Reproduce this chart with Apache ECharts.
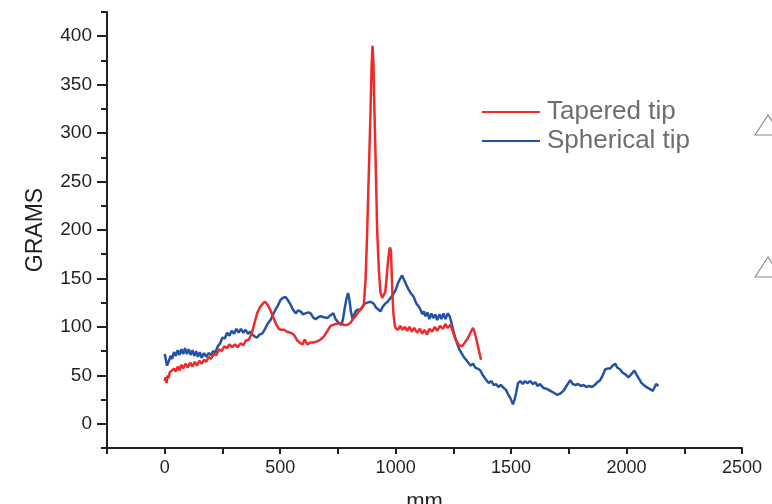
<!DOCTYPE html>
<html>
<head>
<meta charset="utf-8">
<script src="https://cdn.jsdelivr.net/npm/echarts@6/dist/echarts.min.js"></script>
<style>
  html, body { margin: 0; padding: 0; background: #fff; }
  #chart { width: 772px; height: 504px; }
</style>
</head>
<body>
<div id="chart"></div>
<script>
(function () {
  'use strict';

  // tick labels
  var xLabelValues = [0, 500, 1000, 1500, 2000, 2500];
  var xTickValues = [-250, 0, 250, 500, 750, 1000, 1250, 1500, 1750, 2000, 2250, 2500];
  var yLabelValues = [0, 50, 100, 150, 200, 250, 300, 350, 400];
  var yMinorValues = [-25, 25, 75, 125, 175, 225, 275, 325, 375, 425];

  // series: [mm, grams]
  var tapered = [
    [0,44],[4,48],[8,42],[12,50],[16,47],[22,53],[30,51],[40,57],[48,54],[56,59],[64,55],[72,61],
    [80,57],[90,62],[100,58],[110,63],[120,59],[130,64],[140,60],[150,65],[160,62],[170,66],
    [180,64],[190,69],[200,67],[212,72],[224,71],[235,77],[246,75],[258,80],[270,78],[280,82],
    [292,79],[304,82],[316,79],[328,83],[340,81],[352,86],[365,87],[378,94],[390,105],[400,114],
    [412,120],[425,124],[434,126],[445,123],[458,117],[470,110],[482,103],[494,98],[505,97],
    [516,97],[530,95],[545,94],[559,92],[574,86],[588,83],[597,82],[606,87],[617,82],[632,84],
    [646,84],[660,85],[675,87],[689,90],[705,96],[718,101],[725,102],[740,103],[761,104],
    [776,102],[790,102],[804,104],[812,107],[826,111],[840,116],[852,119],[862,122],[870,150],
    [877,200],[884,260],[891,320],[896,370],[900,390],[904,372],[908,325],[913,275],[920,200],
    [927,160],[934,136],[942,130],[949,131],[955,136],[960,148],[966,165],[972,179],[976,182],
    [980,178],[983,155],[986,135],[990,115],[995,104],[999,99],[1010,97],[1020,101],[1030,97],
    [1040,100],[1050,96],[1060,100],[1070,95],[1080,99],[1093,94],[1105,98],[1115,93],
    [1125,97],[1136,92],[1146,98],[1158,95],[1170,100],[1180,96],[1192,101],[1205,98],
    [1215,103],[1225,99],[1237,102],[1245,97],[1252,92],[1262,86],[1275,81],[1288,80],
    [1300,84],[1312,88],[1324,94],[1335,99],[1344,93],[1352,85],[1360,76],[1370,66]
  ];

  var spherical = [
    [0,72],[5,66],[10,60],[15,58],[20,66],[25,70],[32,67],[40,74],[48,70],[56,76],[64,71],
    [72,77],[80,72],[88,78],[96,72],[104,77],[112,71],[120,76],[128,70],[136,75],[144,69],
    [152,74],[160,68],[170,73],[180,69],[190,73],[200,71],[210,75],[220,74],[230,80],[240,83],
    [250,89],[260,88],[270,94],[280,91],[290,96],[300,93],[310,98],[320,94],[330,98],[340,94],
    [350,97],[360,93],[370,95],[380,92],[390,90],[400,89],[410,92],[422,93],[435,98],[445,103],
    [458,107],[470,113],[480,118],[490,122],[502,128],[512,130],[523,131],[532,128],[545,123],
    [555,118],[567,114],[578,117],[588,116],[598,113],[610,114],[622,115],[632,114],[642,110],
    [653,108],[665,110],[675,111],[690,110],[704,109],[718,112],[730,114],[740,108],[754,104],
    [765,102],[772,108],[780,120],[788,130],[794,135],[800,128],[806,116],[814,108],[826,116],
    [836,118],[846,117],[856,121],[866,124],[878,125],[891,126],[905,124],[915,120],[925,118],
    [934,116],[945,121],[955,124],[965,126],[975,129],[985,132],[992,131],[1000,138],
    [1010,145],[1020,150],[1028,153],[1036,149],[1045,144],[1055,139],[1065,135],[1078,131],
    [1090,124],[1100,121],[1107,118],[1116,113],[1122,116],[1129,111],[1138,115],[1146,108],
    [1155,114],[1163,109],[1172,113],[1180,107],[1190,113],[1198,108],[1207,114],[1216,108],
    [1225,114],[1234,111],[1240,106],[1248,98],[1259,88],[1266,83],[1275,77],[1285,73],
    [1295,69],[1305,66],[1315,63],[1325,60],[1335,62],[1345,58],[1355,57],[1367,55],
    [1378,50],[1390,46],[1403,42],[1415,44],[1425,40],[1435,41],[1445,38],[1455,40],
    [1468,37],[1478,35],[1488,30],[1498,26],[1508,20],[1515,25],[1522,32],[1530,42],
    [1540,44],[1550,41],[1560,44],[1570,42],[1583,44],[1595,41],[1605,43],[1615,39],
    [1625,41],[1640,37],[1655,36],[1670,34],[1685,32],[1698,30],[1712,31],[1727,34],
    [1740,39],[1756,45],[1767,41],[1778,40],[1790,41],[1802,39],[1814,40],[1826,38],
    [1838,39],[1850,38],[1862,40],[1874,43],[1886,45],[1897,50],[1907,56],[1918,57],
    [1929,57],[1940,60],[1951,62],[1960,58],[1972,56],[1982,53],[1995,51],[2008,48],
    [2020,51],[2034,55],[2045,50],[2055,46],[2065,42],[2073,40],[2085,38],[2100,36],
    [2114,34],[2122,38],[2128,41],[2138,39]
  ];

  var axisColor = '#231f20';
  var font = 'Liberation Sans, Arial, sans-serif';
  var plain = function (v) { return String(v); };

  var myChart = echarts.init(document.getElementById('chart'));

  myChart.setOption({
    animation: false,
    backgroundColor: '#fff',
    grid: { left: 107, right: 30, top: 12, bottom: 56, containLabel: false, outerBoundsMode: 'none' },
    legend: {
      orient: 'vertical',
      left: 477,
      top: 94,
      icon: 'rect',
      itemWidth: 58,
      itemHeight: 2,
      itemGap: 3,
      textStyle: { fontFamily: font, fontSize: 26, color: '#6d6e71', padding: [0, 0, 0, 2] },
      data: ['Tapered tip', 'Spherical tip']
    },
    xAxis: {
      type: 'value',
      min: -250,
      max: 2500,
      name: 'mm',
      nameLocation: 'middle',
      nameGap: 43,
      nameTextStyle: { fontFamily: font, fontSize: 22, color: axisColor },
      splitLine: { show: false },
      axisLine: { onZero: false, lineStyle: { color: axisColor, width: 2 } },
      axisTick: { customValues: xTickValues, length: 6, lineStyle: { color: axisColor, width: 2 } },
      axisLabel: { customValues: xLabelValues, formatter: plain, margin: 11, fontFamily: font, fontSize: 18, color: axisColor }
    },
    yAxis: [{
      type: 'value',
      min: -25,
      max: 425,
      name: 'GRAMS',
      nameLocation: 'middle',
      nameGap: 60,
      nameTextStyle: { fontFamily: font, fontSize: 23, color: axisColor },
      splitLine: { show: false },
      axisLine: { onZero: false, lineStyle: { color: axisColor, width: 2 } },
      axisTick: { customValues: yLabelValues, length: 10, lineStyle: { color: axisColor, width: 2 } },
      axisLabel: { customValues: yLabelValues, formatter: plain, margin: 15, fontFamily: font, fontSize: 19, color: axisColor }
    }, {
      type: 'value',
      position: 'left',
      min: -25,
      max: 425,
      splitLine: { show: false },
      axisLine: { show: false, onZero: false },
      axisTick: { customValues: yMinorValues, length: 6, lineStyle: { color: axisColor, width: 2 } },
      axisLabel: { show: false }
    }],
    series: [{
      name: 'Tapered tip',
      type: 'line',
      data: tapered,
      symbol: 'none',
      color: '#ee2a2a',
      lineStyle: { width: 2.5 },
      z: 3
    }, {
      name: 'Spherical tip',
      type: 'line',
      data: spherical,
      symbol: 'none',
      color: '#2553a3',
      lineStyle: { width: 2.5 },
      z: 2
    }],
    graphic: [{
      type: 'polygon',
      shape: { points: [[755, 135], [768, 115], [781, 135]] },
      style: { fill: 'none', stroke: '#8a8a8a', lineWidth: 1.2 }
    }, {
      type: 'polygon',
      shape: { points: [[755, 277], [768, 257], [781, 277]] },
      style: { fill: 'none', stroke: '#8a8a8a', lineWidth: 1.2 }
    }]
  });
})();
</script>
</body>
</html>
